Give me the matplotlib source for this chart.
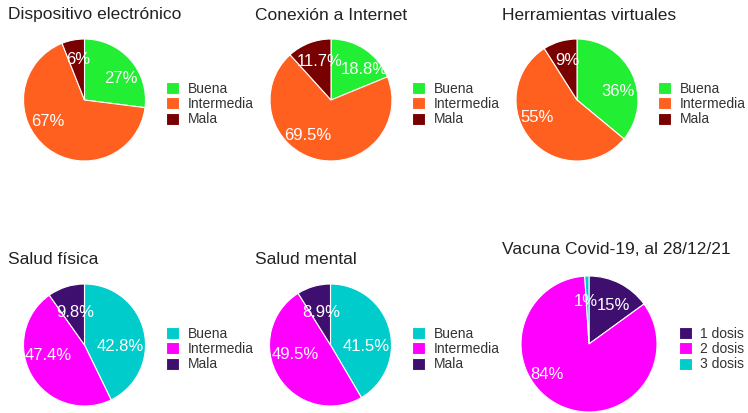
import matplotlib
matplotlib.use('Agg')
import matplotlib.pyplot as plt
import numpy as np

plt.rcParams['font.family'] = ['Liberation Sans', 'DejaVu Sans']

#----------------------------------------------------------------------
# DATA
titles = ['Dispositivo electrónico', 'Conexión a Internet', 'Herramientas virtuales',
          'Salud física', 'Salud mental', 'Vacuna Covid-19, al 28/12/21']
calidad = ['Buena', 'Intermedia', 'Mala']
dosis = ['1 dosis', '2 dosis', '3 dosis']

dispositivo = [27, 67, 6]
conexion = [18.8, 69.5, 11.7]
herramientas = [36, 55, 9]
salud_fisica = [42.8, 47.4, 9.8]
salud_mental = [41.5, 49.5, 8.9]
vacuna = [15, 84, 1]

decimales = [0, 1, 0, 1, 1, 0]

col_conex = ['#22EE33', '#FF6020', '#780000']
col_salud = ['#00CCCC', '#FF00FF', '#3F0F6F']
col_vacuna = ['#3F0F6F', '#FF00FF', '#00CCCC']

#----------------------------------------------------------------------
# LAYOUT (pixels, y from top)
W, H = 748, 413
# (cx, cy, radius), title position, legend position
pies = [(84.5, 100, 61), (331, 100, 61), (577, 100, 61),
        (84.5, 345, 61), (330.5, 345, 61), (589, 344, 68)]
title_pos = [(8, 15), (255, 15), (502, 15), (8, 260), (255, 260), (502, 250)]
legend_pos = [(159, 104), (405, 104), (651, 104), (159, 349), (405, 349), (672, 349)]

# label placement: extra clockwise turn (deg) from slice middle, and distance from centre
label_shift = [[10, 22, 2], [13, 21, 5], [14, 18, 2],
               [16, 15, 2], [17, 16, 0], [5, 29, -2]]
label_dist = [[0.69, 0.70, 0.68], [0.74, 0.70, 0.66], [0.69, 0.71, 0.66],
              [0.58, 0.62, 0.56], [0.58, 0.60, 0.56], [0.67, 0.77, 0.63]]

series = [dispositivo, conexion, herramientas, salud_fisica, salud_mental, vacuna]
labels = [calidad] * 5 + [dosis]
colors = [col_conex] * 3 + [col_salud] * 2 + [col_vacuna]

fig = plt.figure(figsize=(W / 100, H / 100), dpi=100)

for k in range(6):
    cx, cy, r = pies[k]
    ax = fig.add_axes([(cx - r) / W, 1 - (cy + r) / H, 2 * r / W, 2 * r / H])
    d = decimales[k]
    wedges, _, autotexts = ax.pie(series[k], colors=colors[k], startangle=90,
                                  counterclock=False, radius=1,
                                  autopct=lambda p, d=d: ('%.' + str(d) + 'f%%') % p,
                                  wedgeprops=dict(edgecolor='white', linewidth=0.8),
                                  textprops=dict(color='white', fontsize=12))
    # reposition percentage labels
    vals = np.array(series[k], dtype=float)
    frac = vals / vals.sum()
    mids = (np.cumsum(frac) - frac / 2) * 360
    for i, t in enumerate(autotexts):
        a = np.radians(mids[i] + label_shift[k][i])
        rr = label_dist[k][i]
        t.set_position((rr * np.sin(a), rr * np.cos(a)))
    ax.set_xlim(-1, 1)
    ax.set_ylim(-1, 1)
    ax.set_aspect('equal')
    ax.axis('off')

    tx, ty = title_pos[k]
    fig.text(tx / W, 1 - ty / H, titles[k], fontsize=12.5, color='#222222',
             ha='left', va='center')

    lx, ly = legend_pos[k]
    fig.legend(wedges, labels[k], loc='center left',
               bbox_to_anchor=(lx / W, 1 - ly / H), frameon=False,
               fontsize=10, handlelength=0.95, handleheight=0.95,
               handletextpad=0.6, labelspacing=0.1, borderpad=0,
               labelcolor='#333333')

fig.savefig('out.png', dpi=100)
